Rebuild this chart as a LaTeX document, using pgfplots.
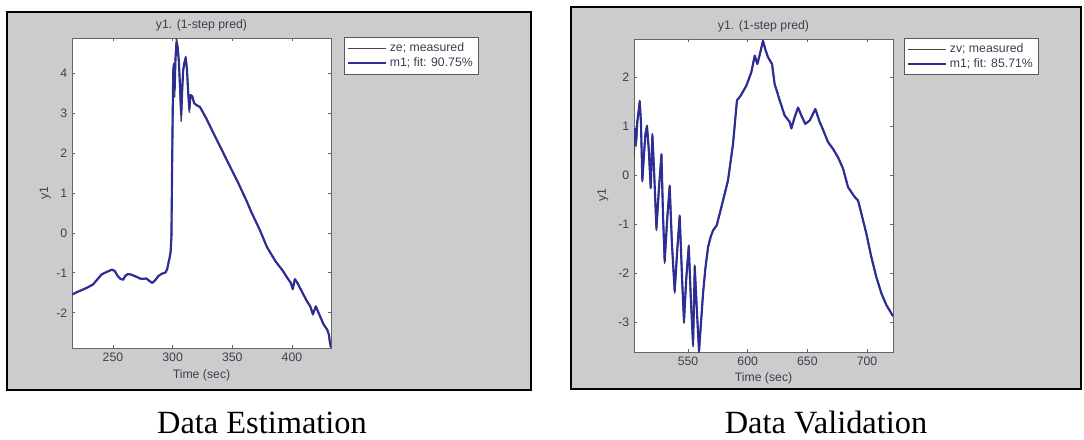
\documentclass[border=0pt]{standalone}
\usepackage{pgfplots}
\pgfplotsset{compat=1.18}
\usepackage{pgfplotstable}
\usepackage{fontspec}
\setmainfont{Liberation Sans}
\newfontfamily\capfont{Liberation Serif}
\definecolor{figgray}{RGB}{204,204,204}
\definecolor{mblue}{RGB}{45,45,150}
\definecolor{mgray}{RGB}{70,70,70}
\definecolor{txt}{RGB}{70,58,80}

\pgfplotstableread{
x meas model
216.0 -1.54 -1.54
220.0 -1.48 -1.48
224.6 -1.42 -1.42
229.0 -1.36 -1.36
233.3 -1.29 -1.29
237.0 -1.16 -1.16
240.5 -1.04 -1.04
244.5 -0.98 -0.98
249.1 -0.92 -0.92
251.5 -0.95 -0.95
254.0 -1.08 -1.08
256.3 -1.15 -1.15
258.5 -1.17 -1.17
260.5 -1.07 -1.07
262.5 -1.03 -1.03
265.0 -1.04 -1.04
267.5 -1.07 -1.07
270.0 -1.10 -1.10
272.5 -1.14 -1.14
275.0 -1.15 -1.15
278.0 -1.14 -1.14
280.5 -1.20 -1.20
283.0 -1.25 -1.25
285.5 -1.18 -1.18
288.0 -1.08 -1.08
291.0 -1.02 -1.02
294.0 -0.99 -0.99
295.5 -0.90 -0.90
296.5 -0.75 -0.75
297.5 -0.62 -0.62
298.3 -0.48 -0.48
299.0 -0.10 -0.10
299.5 1.50 1.40
300.0 2.90 2.80
300.5 4.10 4.00
301.0 4.25 4.20
301.7 3.40 3.60
302.4 4.40 4.35
303.2 4.88 4.75
304.2 4.70 4.65
305.2 4.30 4.30
306.3 3.50 3.60
307.2 2.80 2.95
308.0 3.60 3.55
308.8 4.10 4.05
309.8 4.25 4.25
311.0 4.42 4.38
312.0 4.10 4.10
313.0 3.50 3.55
314.0 3.02 3.10
315.0 3.45 3.45
316.5 3.42 3.42
318.0 3.25 3.25
320.0 3.20 3.20
323.0 3.15 3.15
328.5 2.85 2.85
335.0 2.45 2.45
342.0 2.03 2.03
350.0 1.55 1.55
355.0 1.25 1.25
358.9 1.00 1.00
362.0 0.80 0.80
366.0 0.52 0.52
373.0 0.08 0.08
379.0 -0.35 -0.35
386.0 -0.70 -0.70
392.4 -0.95 -0.95
396.0 -1.12 -1.12
399.0 -1.25 -1.25
400.7 -1.42 -1.40
402.4 -1.15 -1.16
404.0 -1.22 -1.22
408.0 -1.45 -1.45
412.0 -1.68 -1.68
415.5 -1.85 -1.85
417.5 -2.05 -2.03
420.0 -1.83 -1.84
423.0 -2.05 -2.05
426.5 -2.29 -2.29
429.5 -2.42 -2.42
431.0 -2.55 -2.55
431.7 -2.75 -2.72
432.6 -2.88 -2.85
}\leftdata

\pgfplotstableread{
x meas model
504.7 0.35 0.55
505.5 0.95 0.95
506.5 0.60 0.70
507.5 1.10 1.10
508.5 1.30 1.30
509.5 1.53 1.50
510.5 1.10 1.10
511.7 -0.13 -0.10
513.0 0.40 0.40
514.3 0.85 0.85
515.6 1.02 1.00
517.0 0.55 0.55
518.7 -0.27 -0.25
519.5 0.40 0.40
520.1 0.85 0.82
521.5 0.10 0.10
523.5 -1.12 -1.08
525.5 -0.30 -0.30
527.7 0.44 0.42
529.0 -0.80 -0.80
530.4 -1.79 -1.75
532.5 -0.90 -0.90
534.6 -0.20 -0.22
536.5 -1.40 -1.40
538.8 -2.40 -2.36
541.0 -1.50 -1.50
543.0 -0.81 -0.83
545.0 -2.10 -2.10
546.6 -3.01 -2.97
548.5 -2.10 -2.10
550.6 -1.42 -1.45
552.5 -2.60 -2.60
554.2 -3.49 -3.45
555.0 -2.60 -2.60
555.6 -1.83 -1.86
557.5 -2.80 -2.80
559.2 -3.62 -3.58
561.0 -2.95 -2.95
562.6 -2.40 -2.40
564.5 -1.90 -1.90
566.8 -1.46 -1.46
569.0 -1.25 -1.25
571.0 -1.12 -1.12
574.0 -1.02 -1.02
578.0 -0.64 -0.64
583.5 -0.10 -0.10
587.7 0.64 0.64
591.0 1.53 1.53
594.0 1.62 1.62
598.9 1.83 1.83
603.0 2.10 2.10
605.9 2.44 2.44
608.1 2.27 2.27
610.5 2.50 2.50
612.8 2.76 2.74
615.0 2.55 2.55
617.0 2.41 2.41
620.4 2.27 2.27
622.6 1.86 1.86
626.8 1.53 1.53
631.0 1.22 1.22
635.2 1.09 1.09
636.6 0.95 0.96
639.4 1.19 1.19
642.2 1.39 1.38
645.5 1.19 1.19
648.3 1.05 1.05
652.0 1.12 1.12
656.7 1.36 1.35
660.3 1.09 1.09
662.3 0.98 0.98
667.3 0.68 0.68
671.5 0.54 0.54
675.7 0.37 0.37
679.9 0.14 0.14
684.1 -0.24 -0.24
689.7 -0.44 -0.44
692.5 -0.51 -0.51
695.3 -0.78 -0.78
699.4 -1.18 -1.18
703.6 -1.66 -1.66
707.8 -2.07 -2.07
712.0 -2.40 -2.40
716.2 -2.64 -2.64
721.8 -2.87 -2.87
}\rightdata

\pgfplotsset{
  mstyle/.style={
    scale only axis, width=194.25pt,
    axis line style={draw=black!60, line width=0.7pt},
    tick align=inside, major tick length=2.6pt,
    tick style={black!60, line width=0.6pt},
    font=\fontsize{9.2}{11}\selectfont,
    every tick label/.append style={text=txt},
    label style={text=txt},
    title style={text=txt},
    /pgf/number format/assume math mode=true,
    axis background/.style={fill=white},
    legend cell align=left,
    legend style={draw=black!65, line width=0.7pt, fill=white,
      font=\fontsize{9.2}{11}\selectfont, inner sep=2pt, row sep=-1pt},
    legend image code/.code={\draw[#1] (0cm,0cm) -- (1cm,0cm);},
    xlabel={Time (sec)}, ylabel={y1}, title={y1. (1-step pred)},
    scaled ticks=false,
  },
  measline/.style={color=mgray, line width=1.1pt, line join=round},
  modline/.style={color=mblue, line width=1.6pt, line join=round},
}

\begin{document}
\begin{tikzpicture}
\useasboundingbox (0,0) rectangle (813pt,329.25pt);
% panels
\fill[figgray] (5.25pt,36.75pt) rectangle (398.25pt,320.25pt);
\draw[black, line width=1.5pt] (5.25pt,36.75pt) rectangle (398.25pt,320.25pt);
\fill[figgray] (428.25pt,37.5pt) rectangle (810.75pt,324pt);
\draw[black, line width=1.5pt] (428.25pt,37.5pt) rectangle (810.75pt,324pt);

\begin{axis}[mstyle, at={(54pt,68.25pt)}, anchor=south west,
  height=232.5pt,
  xmin=215.7, xmax=432.7, ymin=-2.88, ymax=4.88,
  xtick={250,300,350,400}, ytick={-2,-1,0,1,2,3,4},
  xlabel style={at={(axis description cs:0.5,-0.087)}, anchor=center},
  ylabel style={at={(axis description cs:-0.104,0.5)}, anchor=center},
  title style={at={(axis description cs:0.5,1.016)}, anchor=center},
  legend style={at={(1.05,1.003)}, anchor=north west}]
\addplot[measline] table[x=x, y=meas] {\leftdata};
\addlegendentry{\textcolor{txt}{ze; measured}}
\addplot[modline] table[x=x, y=model] {\leftdata};
\addlegendentry{\textcolor{txt}{m1; fit: 90.75\%}}
\end{axis}

\begin{axis}[mstyle, at={(475.5pt,65.25pt)}, anchor=south west,
  height=234.75pt,
  xmin=504.7, xmax=721.8, ymin=-3.6, ymax=2.78,
  xtick={550,600,650,700}, ytick={-3,-2,-1,0,1,2},
  xlabel style={at={(axis description cs:0.5,-0.083)}, anchor=center},
  ylabel style={at={(axis description cs:-0.12,0.5)}, anchor=center},
  title style={at={(axis description cs:0.5,1.016)}, anchor=center},
  legend style={at={(1.0425,1.003)}, anchor=north west}]
\addplot[measline] table[x=x, y=meas] {\rightdata};
\addlegendentry{\textcolor{txt}{zv; measured}}
\addplot[modline] table[x=x, y=model] {\rightdata};
\addlegendentry{\textcolor{txt}{m1; fit: 85.71\%}}
\end{axis}

\node[font=\capfont\fontsize{24.3}{27}\selectfont, anchor=base] at (196.5pt,4.5pt) {Data Estimation};
\node[font=\capfont\fontsize{24.3}{27}\selectfont, anchor=base] at (619.5pt,4.5pt) {Data Validation};
\end{tikzpicture}
\end{document}
